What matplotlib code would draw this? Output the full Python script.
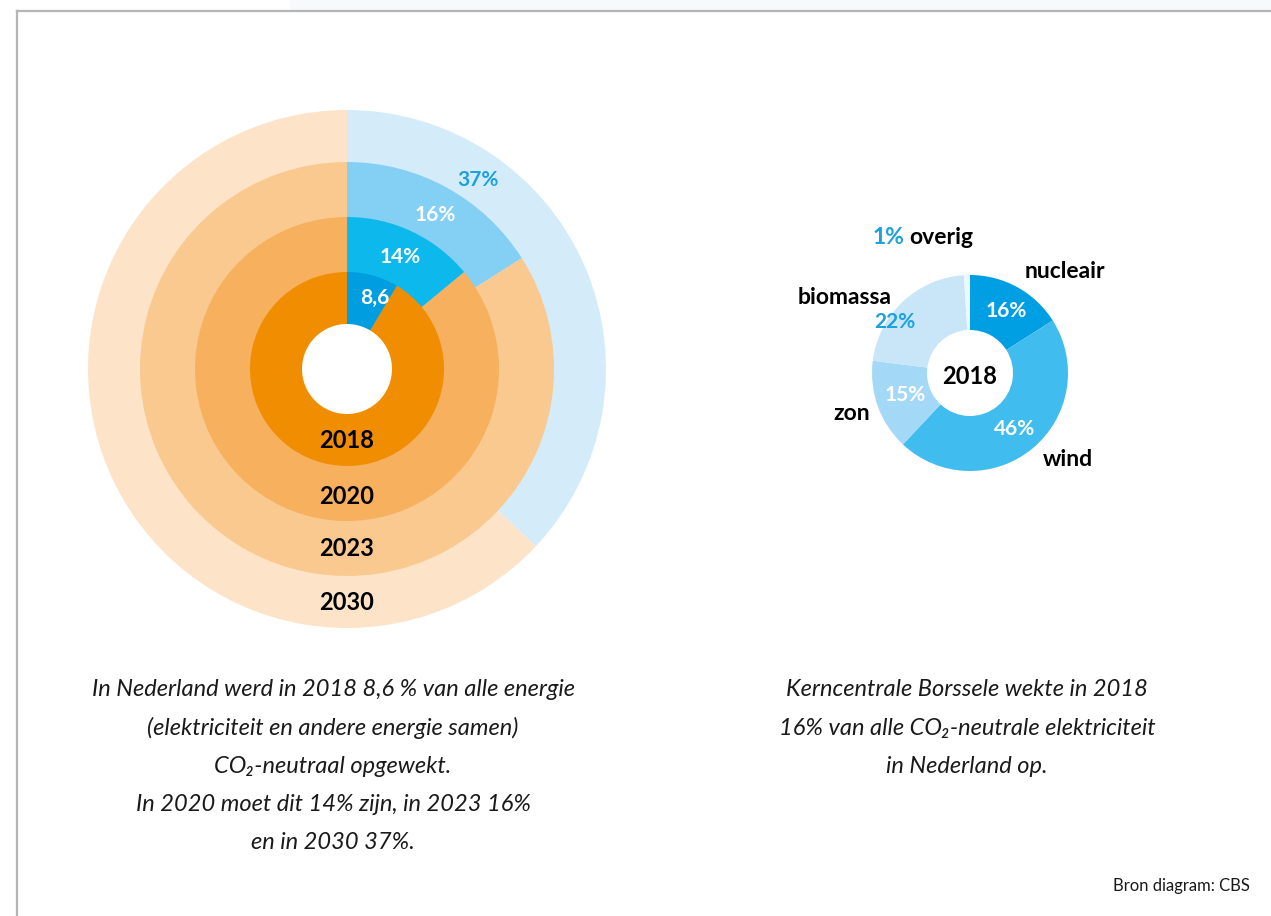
import matplotlib.pyplot as plt
from matplotlib.patches import Rectangle, Circle

plt.rcParams['font.family'] = ['Lato', 'DejaVu Sans']

W, H = 1271, 916

# left chart: share of CO2-neutral energy per year
years = ["2018", "2020", "2023", "2030"]
shares = [8.6, 14, 16, 37]
share_labels = ["8,6", "14%", "16%", "37%"]
blues = ["#009ee0", "#0db8ec", "#84cff4", "#d4ebfa"]
oranges = ["#f18d00", "#f6b05e", "#f9c990", "#fde3c8"]

# right chart: CO2-neutral electricity 2018
sources = ["nucleair", "wind", "zon", "biomassa", "overig"]
source_pct = [16, 46, 15, 22, 1]
source_colors = ["#009fe3", "#40bdee", "#a3d9f6", "#c9e6f9", "#eef7fd"]

caption_left = ["In Nederland werd in 2018 8,6 % van alle energie",
                "(elektriciteit en andere energie samen)",
                "CO\u2082-neutraal opgewekt.",
                "In 2020 moet dit 14% zijn, in 2023 16%",
                "en in 2030 37%."]
caption_right = ["Kerncentrale Borssele wekte in 2018",
                 "16% van alle CO\u2082-neutrale elektriciteit",
                 "in Nederland op."]

TXT_BLUE = "#1ba1de"

fig = plt.figure(figsize=(W / 100, H / 100), dpi=100)


def pie_axes(cx, cy, r):
    a = fig.add_axes([(cx - r) / W, (H - cy - r) / H, 2 * r / W, 2 * r / H])
    a.set_xlim(-1, 1)
    a.set_ylim(-1, 1)
    a.axis('off')
    return a


# left: stacked rings, outermost first, white hole on top
cx, cy, R = 347, 369, 259
radii = [97, 152, 207, 259]
hole = 45
ax1 = pie_axes(cx, cy, R)
for i in range(len(years) - 1, -1, -1):
    ax1.pie([shares[i], 100 - shares[i]], radius=radii[i] / R, startangle=90,
            counterclock=False, colors=[blues[i], oranges[i]],
            wedgeprops=dict(linewidth=0))
ax1.add_patch(Circle((0, 0), hole / R, color="white", lw=0, zorder=5))
ax1.set_xlim(-1, 1)
ax1.set_ylim(-1, 1)

# right donut
ax2 = pie_axes(970, 373, 98)
ax2.pie(source_pct, radius=1, startangle=90, counterclock=False,
        colors=source_colors, wedgeprops=dict(width=1 - 43 / 98, linewidth=0))
ax2.set_xlim(-1, 1)
ax2.set_ylim(-1, 1)

# overlay for text and frame, in pixel coordinates
t = fig.add_axes([0, 0, 1, 1])
t.set_xlim(0, W)
t.set_ylim(H, 0)
t.axis('off')

t.add_patch(Rectangle((290, 0), W - 290, 10, color="#f7fafd", lw=0))
t.plot([17, W], [11, 11], color="#b5b5b5", lw=1.6)
t.plot([17, 17], [11, H], color="#b5b5b5", lw=1.6)

# ring labels
lab_pos = [(375, 298), (400, 257), (435, 215), (478, 180)]
for i, (x, y) in enumerate(lab_pos):
    c = TXT_BLUE if i == 3 else "white"
    t.text(x, y, share_labels[i], color=c, fontsize=15, fontweight='bold',
           ha='center', va='center')
year_y = [440, 497, 549, 603]
for yr, y in zip(years, year_y):
    t.text(347, y, yr, color="black", fontsize=17, fontweight='bold',
           ha='center', va='center')

# donut labels
pct_pos = [(1006, 311), (1015, 429), (905, 395), (895, 322)]
pct_col = ["white", "white", "white", TXT_BLUE]
for i, (x, y) in enumerate(pct_pos):
    t.text(x, y, f"{source_pct[i]}%", color=pct_col[i], fontsize=15,
           fontweight='bold', ha='center', va='center')
t.text(970, 376, "2018", color="black", fontsize=17, fontweight='bold',
       ha='center', va='center')
name_pos = [(1065, 271), (1068, 459), (852, 414), (845, 298)]
for i, (x, y) in enumerate(name_pos):
    t.text(x, y, sources[i], color="black", fontsize=16.5, fontweight='bold',
           ha='center', va='center')
t.text(904, 237, f"{source_pct[4]}%", color=TXT_BLUE, fontsize=16.5,
       fontweight='bold', ha='right', va='center')
t.text(909, 237, sources[4], color="black", fontsize=16.5,
       fontweight='bold', ha='left', va='center')

# captions
for k, line in enumerate(caption_left):
    t.text(333, 690 + k * 38.2, line, fontsize=17, style='italic',
           color="#1a1a1a", ha='center', va='center')
for k, line in enumerate(caption_right):
    t.text(967, 690 + k * 38.2, line, fontsize=17, style='italic',
           color="#1a1a1a", ha='center', va='center')

t.text(1250, 886, "Bron diagram: CBS", fontsize=12, color="#1a1a1a",
       ha='right', va='center')

fig.savefig("out.png", dpi=100)
